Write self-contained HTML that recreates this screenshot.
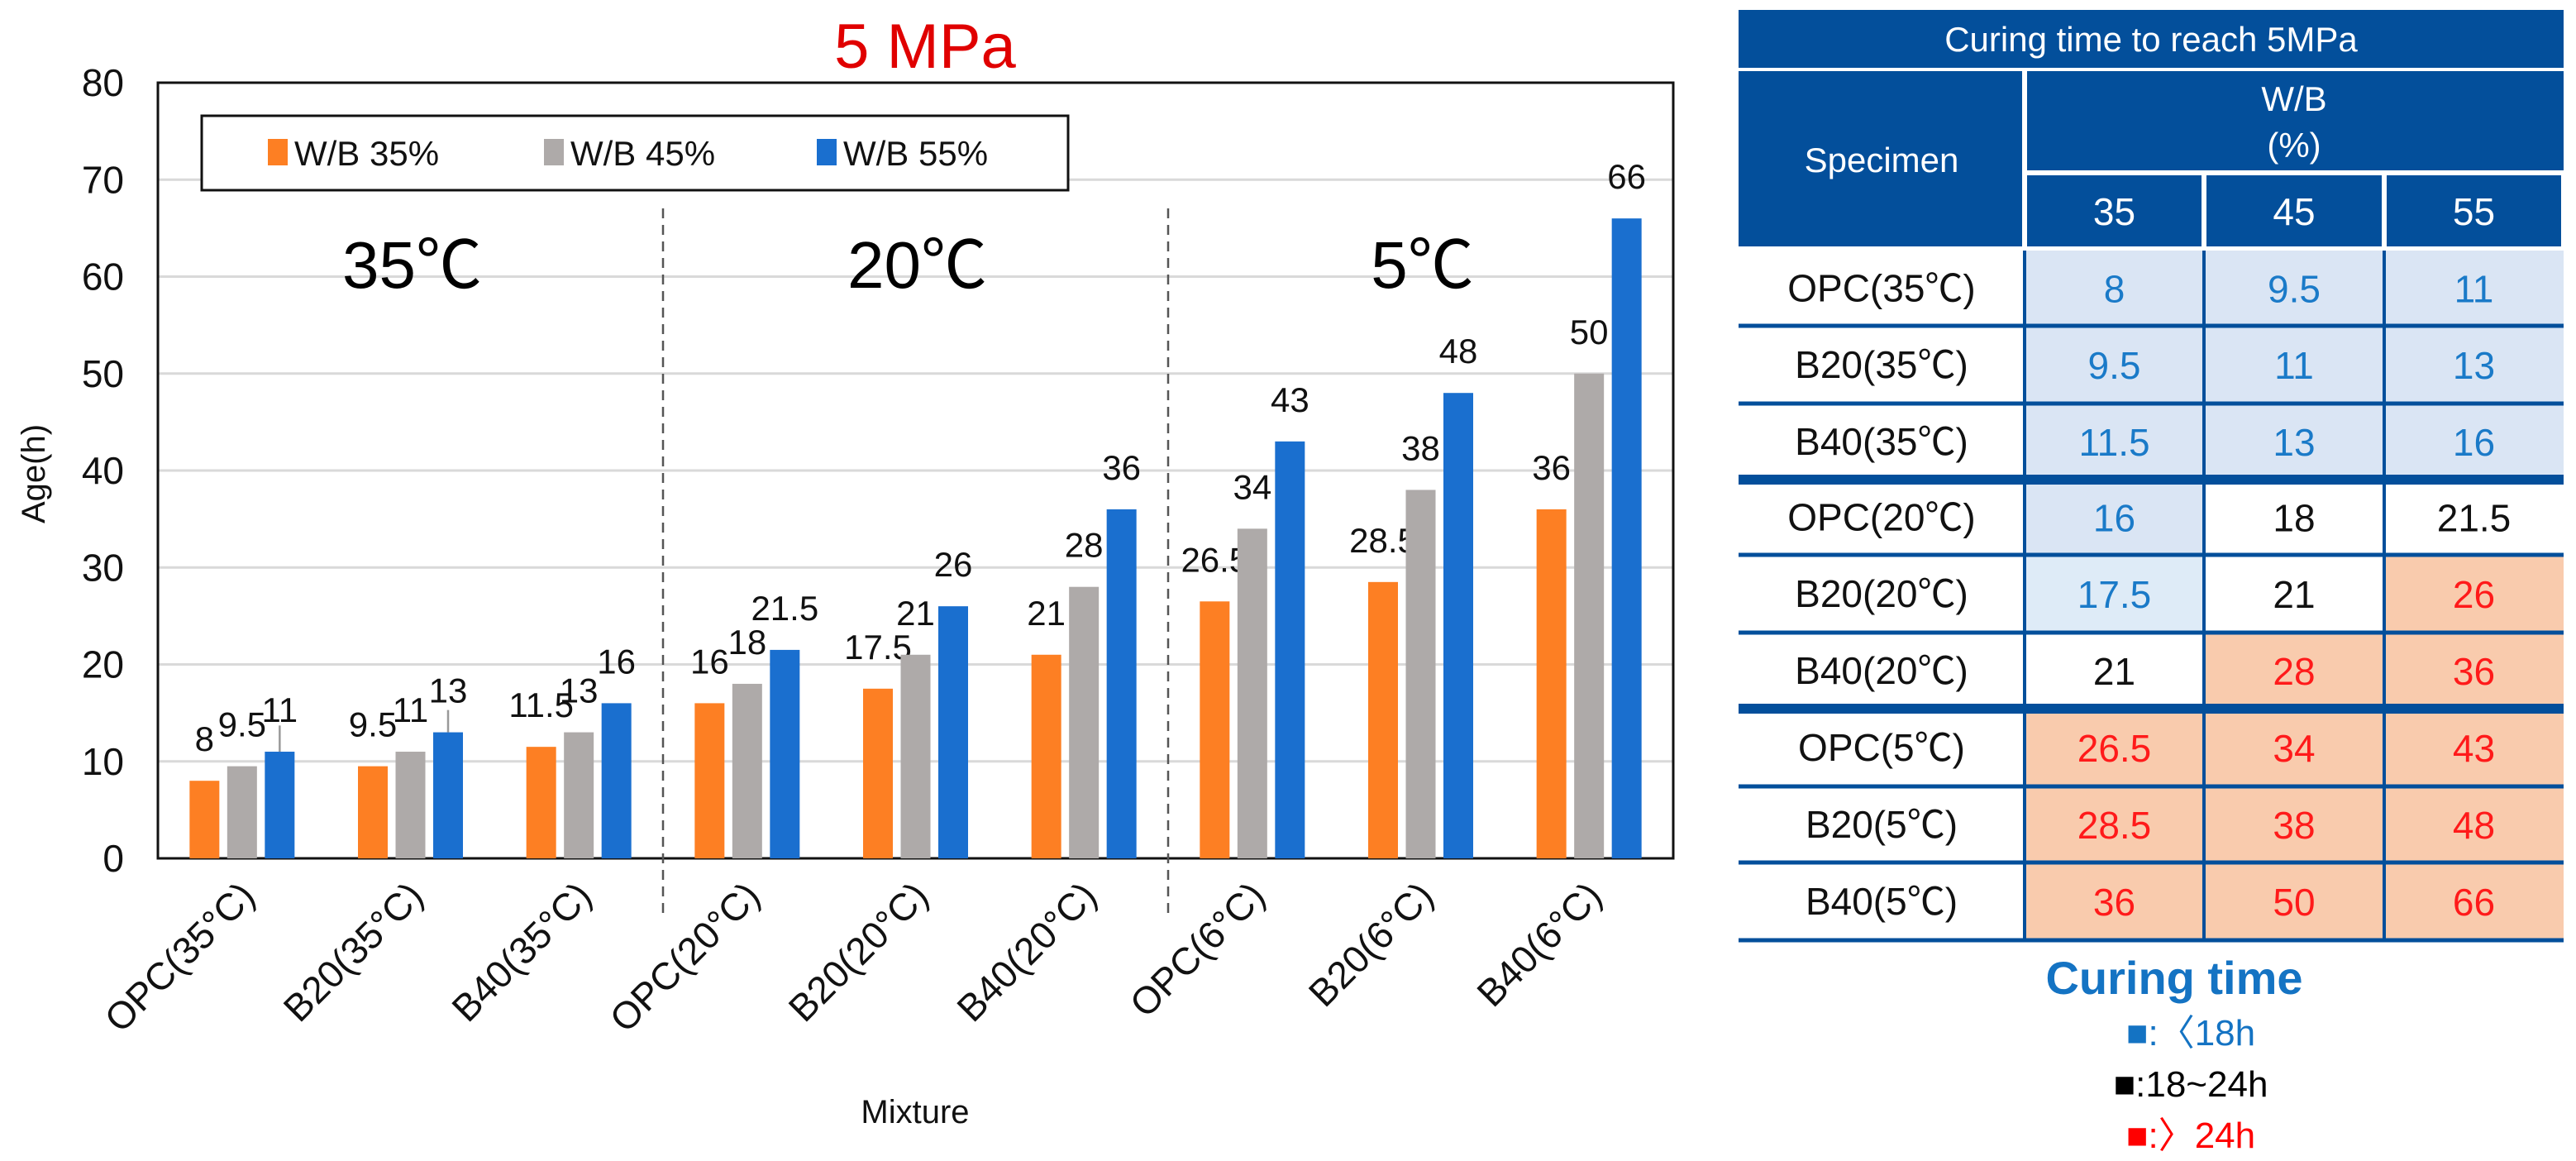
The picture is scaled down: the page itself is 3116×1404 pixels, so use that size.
<!DOCTYPE html>
<html><head><meta charset="utf-8">
<style>
html,body{margin:0;padding:0;background:#fff;}
svg{display:block;font-family:"Liberation Sans","Noto Sans CJK KR",sans-serif;}
</style></head>
<body>
<svg id="chart" width="3116" height="1404" viewBox="0 0 3116 1404" xmlns="http://www.w3.org/2000/svg">
<text x="1119" y="82" font-size="76" fill="#e00000" text-anchor="middle">5 MPa</text>
<g id="plot"></g>
<g id="table"></g>
</svg>
<script>
const categories = ["OPC(35°C)","B20(35°C)","B40(35°C)","OPC(20°C)","B20(20°C)","B40(20°C)","OPC(6°C)","B20(6°C)","B40(6°C)"];
const seriesNames = ["W/B 35%","W/B 45%","W/B 55%"];
const wb35 = [8,9.5,11.5,16,17.5,21,26.5,28.5,36];
const wb45 = [9.5,11,13,18,21,28,34,38,50];
const wb55 = [11,13,16,21.5,26,36,43,48,66];
const wb55Err = [2.7,2.3,0,0,0,0,0,0,0];
const labels35 = ["8","9.5","11.5","16","17.5","21","26.5","28.5","36"];
const labels45 = ["9.5","11","13","18","21","28","34","38","50"];
const labels55 = ["11","13","16","21.5","26","36","43","48","66"];
const yTicks = [0,10,20,30,40,50,60,70,80];
const regionLabels = ["35℃","20℃","5℃"];
const tableRows = ["OPC(35℃)","B20(35℃)","B40(35℃)","OPC(20℃)","B20(20℃)","B40(20℃)","OPC(5℃)","B20(5℃)","B40(5℃)"];
const tableCols = ["35","45","55"];

const NS="http://www.w3.org/2000/svg";
function mk(tag,attrs,parent,text){const e=document.createElementNS(NS,tag);for(const k in attrs)e.setAttribute(k,attrs[k]);if(text!==undefined)e.textContent=text;parent.appendChild(e);return e;}
const plot=document.getElementById('plot');
const L=191,R=2024,T=100,B=1038,yMax=80;
const y=v=>B-(v/yMax)*(B-T);
const gw=(R-L)/categories.length;
const xc=i=>L+gw*(i+0.5);
const bw=36,step=45.5;
const colors=["#fd7f23","#aeaaa9","#1a6fcf"];
const series=[wb35,wb45,wb55];
const slabels=[labels35,labels45,labels55];

yTicks.forEach(t=>{
  if(t>0){const g=mk('line',{x1:L,x2:R,y1:y(t),y2:y(t),stroke:"#d9d9d9","stroke-width":3},plot);
  
  }
  const tl=mk('text',{x:150,y:y(t)+16,"font-size":46,"text-anchor":"end",fill:"#111"},plot,String(t));
  
  
});
const fr=mk('rect',{x:L,y:T,width:R-L,height:B-T,fill:"none",stroke:"#111","stroke-width":3},plot);


[3,6].forEach(k=>{
  const dl=mk('line',{x1:L+gw*k,x2:L+gw*k,y1:252,y2:1110,stroke:"#555","stroke-width":2.5,"stroke-dasharray":"12,8"},plot);
  
  
});
regionLabels.forEach((r,k)=>{
  const rt=mk('text',{x:L+gw*(3*k+1.5)+2,y:348,"font-size":80,"text-anchor":"middle",fill:"#000"},plot,r);
  
  
});
series.forEach((s,si)=>{
  s.forEach((v,i)=>{
    const cx=xc(i)+(si-1)*step;
    const b=mk('rect',{x:cx-bw/2,y:y(v),width:bw,height:B-y(v),fill:colors[si]},plot);
    
    
    if(si===2&&wb55Err[i]>0){
      const e=mk('line',{x1:cx,x2:cx,y1:y(v),y2:y(v+wb55Err[i]),stroke:"#999","stroke-width":2.5},plot);
      
      
    }
    const lt=mk('text',{x:cx,y:y(v)-36,"font-size":42,"text-anchor":"middle",fill:"#111"},plot,slabels[si][i]);
    
    
  });
});
categories.forEach((c,i)=>{
  const px=xc(i)+18,py=1086;
  const xl=mk('text',{x:px,y:py,"font-size":46,"text-anchor":"end",fill:"#111",transform:`rotate(-45 ${px} ${py})`},plot,c);
  
  
});
const xt=mk('text',{x:1107,y:1358,"font-size":40,"text-anchor":"middle",fill:"#111"},plot,"Mixture");


const yt=mk('text',{x:54,y:573,"font-size":40,"text-anchor":"middle",fill:"#111",transform:"rotate(-90 54 573)"},plot,"Age(h)");


const lg=mk('g',{},plot);


mk('rect',{x:244,y:140,width:1048,height:90,fill:"#fff",stroke:"#111","stroke-width":3},lg);
[324,658,988].forEach((lx,k)=>{
  const it=mk('g',{},lg);
  
  
  mk('rect',{x:lx,y:168,width:24,height:32,fill:colors[k]},it);
  mk('text',{x:lx+32,y:200,"font-size":42,fill:"#111"},it,seriesNames[k]);
});

const tb=document.getElementById('table');
const NAVY="#034f9b",LB="#dae5f4",SAL="#f9cbad",BT="#1a7ac8",RT="#ff1a1a";
const X0=2103,X1=2449,XC=[2449,2666,2884,3101];
const rowY=[303,394,488,580,671,765,857,951,1043,1137];
function rect(a,n){const r=mk('rect',a,tb);return r;}
function txt(x,yy,s,fs,fill,n,weight){const t=mk('text',{x:x,y:yy,"font-size":fs,"text-anchor":"middle",fill:fill,"font-weight":weight||"normal"},tb,s);return t;}
rect({x:X0,y:12,width:3101-X0,height:70,fill:NAVY},'table-title-bg');
txt(2602,62,"Curing time to reach 5MPa",42,"#fff",'table-title');
rect({x:X0,y:86,width:X1-X0-3,height:212,fill:NAVY},'specimen-header-bg');
txt(2276,208,"Specimen",42,"#fff",'specimen-header');
rect({x:X1+3,y:86,width:3101-X1-3,height:120,fill:NAVY},'wb-header-bg');
txt(2775,134,"W/B",42,"#fff",'wb-header');
txt(2775,190,"(%)",42,"#fff",'wb-unit');
tableCols.forEach((c,j)=>{
  rect({x:XC[j]+3,y:212,width:XC[j+1]-XC[j]-6,height:86,fill:NAVY},'col-header-bg');
  txt((XC[j]+XC[j+1])/2,272,c,46,"#fff",'col-header');
});
const vals=[wb35,wb45,wb55];
for(let i=0;i<9;i++){
  const y0=rowY[i],y1=rowY[i+1];
  txt((X0+X1)/2,(y0+y1)/2+16,tableRows[i],46,"#111",'row-label');
  for(let j=0;j<3;j++){
    const v=vals[j][i];
    const cat=v<18?0:(v<=24?1:2);
    const fill=cat===0?(i===4?"#deebf7":LB):(cat===1?"#fff":SAL);
    rect({x:XC[j],y:y0,width:XC[j+1]-XC[j],height:y1-y0,fill:fill},'table-cell');
    txt((XC[j]+XC[j+1])/2,(y0+y1)/2+17,String(v),46,cat===0?BT:(cat===1?"#111":RT),'cell-value');
  }
}
for(let i=1;i<=9;i++){
  const thick=(i===3||i===6);
  const ln=mk('line',{x1:X0,x2:3101,y1:rowY[i],y2:rowY[i],stroke:NAVY,"stroke-width":thick?12:5},tb);
  
  
}
XC.slice(0,3).forEach(xx=>{
  const ln=mk('line',{x1:xx,x2:xx,y1:rowY[0],y2:rowY[9],stroke:NAVY,"stroke-width":4},tb);
  
  
});
txt(2630,1202,"Curing time",56,"#1473c3",'curing-legend-title',"bold");
const lgd=[["■:〈18h","#1473c3",1264],["■:18~24h","#000",1326],["■:〉24h","#ff0000",1388]];
lgd.forEach(l=>{txt(2650,l[2],l[0],44,l[1],'curing-legend-entry');});
</script>
</body></html>
